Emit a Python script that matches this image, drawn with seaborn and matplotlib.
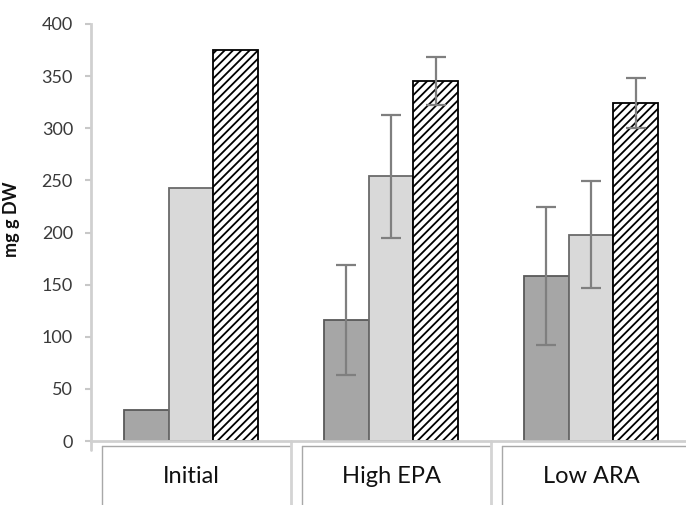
import numpy as np
import pandas as pd
import matplotlib
matplotlib.use("Agg")
import matplotlib.pyplot as plt
import matplotlib.transforms as mtransforms
import seaborn as sns

categories = ["Initial", "High EPA", "Low ARA"]
series = ["Series 1", "Series 2", "Series 3"]
values_s1 = [30, 116, 158]
values_s2 = [243, 254, 198]
values_s3 = [375, 345, 324]
err_s1 = [np.nan, 53, 66]
err_s2 = [np.nan, 59, 51]
err_s3 = [np.nan, 23, 24]
yticks = [0, 50, 100, 150, 200, 250, 300, 350, 400]

sns.set_theme(style="white")
plt.rcParams["font.family"] = ["Lato", "DejaVu Sans"]
plt.rcParams["hatch.linewidth"] = 1.3
plt.rcParams["hatch.color"] = "black"

rows = []
for s, vals in zip(series, [values_s1, values_s2, values_s3]):
    for c, v in zip(categories, vals):
        rows.append({"category": c, "series": s, "value": v})
df = pd.DataFrame(rows)

fills = ["#a6a6a6", "#d9d9d9", "#ffffff"]
edges = ["#595959", "#6a6a6a", "#000000"]

fig = plt.figure(figsize=(6.86, 5.05), dpi=100)
ax = fig.add_axes([91 / 686, (505 - 441) / 505, 595 / 686, (441 - 24) / 505])

sns.barplot(data=df, x="category", y="value", hue="series", order=categories,
            hue_order=series, palette=fills, width=0.67, errorbar=None,
            legend=False, ax=ax, saturation=1)

errs = [err_s1, err_s2, err_s3]
bar_conts = list(ax.containers)
for i, cont in enumerate(bar_conts):
    xs, ys = [], []
    for bar in cont.patches:
        bar.set_edgecolor(edges[i])
        bar.set_linewidth(1.3)
        if i == 2:
            bar.set_hatch("////")
        xs.append(bar.get_x() + bar.get_width() / 2)
        ys.append(bar.get_height())
    ax.errorbar(xs, ys, yerr=errs[i], fmt="none", ecolor="#7f7f7f",
                elinewidth=1.6, capsize=7.5, capthick=1.6, zorder=5)

ax.set_ylim(0, 400)
ax.set_xlim(-0.5, 2.475)
ax.set_yticks(yticks)
ax.set_yticklabels([str(t) for t in yticks], fontsize=13, color="#3a3a3a")
ax.tick_params(axis="y", length=4, width=1.5, color="#c8c8c8", pad=9, left=True)
ax.tick_params(axis="x", length=0, pad=18)
ax.set_xticks(range(len(categories)))
ax.set_xticklabels(categories, fontsize=17, color="#111111")
ax.set_xlabel("")
ax.set_ylabel("mg g DW", fontsize=13, fontweight="bold", color="#111111")
ax.yaxis.set_label_coords(-0.119, 0.532)

for side in ["top", "right"]:
    ax.spines[side].set_visible(False)
ax.spines["left"].set_color("#d0d0d0")
ax.spines["left"].set_linewidth(2)
ax.spines["bottom"].set_color("#d0d0d0")
ax.spines["bottom"].set_linewidth(2)

# category table below the axis
trans = mtransforms.blended_transform_factory(ax.transData, ax.transAxes)
ybot = -(505 - 441) / 417 - 0.01
ytop = -(446 - 441) / 417
for k in range(len(categories)):
    start = k - 0.5
    end = k + 0.5
    left = start + 11 / 200
    ax.plot([left, left], [ytop, ybot], transform=trans, color="#a8a8a8",
            lw=1.0, clip_on=False)
    ax.plot([left, end], [ytop, ytop], transform=trans, color="#a8a8a8",
            lw=1.0, clip_on=False)
    if k > 0:
        ax.plot([start, start], [0, ybot], transform=trans, color="#d4d4d4",
                lw=2.0, clip_on=False)
ax.plot([-0.5, -0.5], [0, -(450 - 441) / 417], transform=trans,
        color="#d0d0d0", lw=2.0, clip_on=False)

fig.savefig("out.png", dpi=100)
